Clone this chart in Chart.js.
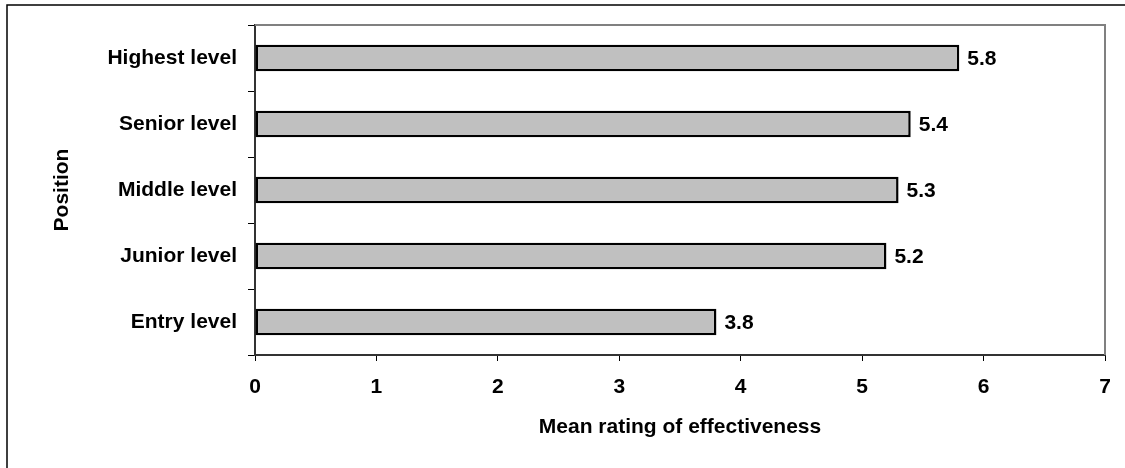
<!DOCTYPE html>
<html>
<head>
<meta charset="utf-8">
<script src="https://cdn.jsdelivr.net/npm/chart.js@4"></script>
<style>
  body { margin: 0; background: #fff; }
  canvas { display: block; }
</style>
</head>
<body>
<canvas id="chart" width="1125" height="468"></canvas>
<script>
let positions = ["Highest level", "Senior level", "Middle level", "Junior level", "Entry level"];
let ratings = [5.8, 5.4, 5.3, 5.2, 3.8];
let xMin = 0;
let xMax = 7;

const FONT = "'Liberation Sans', Arial, sans-serif";

// frame around the whole picture plus gray top/right edge of the plot
const frame = {
    id: "frame",
    afterDraw(chart) {
        const ctx = chart.ctx;
        const a = chart.chartArea;
        ctx.save();
        ctx.strokeStyle = "#000";
        ctx.lineWidth = 1.5;
        ctx.beginPath();
        ctx.moveTo(7, 468);
        ctx.lineTo(7, 5);
        ctx.lineTo(1125, 5);
        ctx.stroke();

        ctx.strokeStyle = "#808080";
        ctx.lineWidth = 2;
        ctx.beginPath();
        ctx.moveTo(a.left, a.top);
        ctx.lineTo(a.right, a.top);
        ctx.lineTo(a.right, a.bottom);
        ctx.stroke();
        ctx.restore();
    }
};

// value labels to the right of the bars
const valueLabels = {
    id: "valueLabels",
    afterDatasetsDraw(chart) {
        const ctx = chart.ctx;
        const meta = chart.getDatasetMeta(0);
        ctx.save();
        ctx.font = "bold 21px " + FONT;
        ctx.fillStyle = "#000";
        ctx.textAlign = "left";
        ctx.textBaseline = "middle";
        meta.data.forEach((bar, i) => {
            ctx.fillText(ratings[i].toFixed(1), bar.x + 8, bar.y + 1);
        });
        ctx.restore();
    }
};

new Chart(document.getElementById("chart"), {
    type: "bar",
    data: {
        labels: positions,
        datasets: [{
            data: ratings,
            backgroundColor: "#c0c0c0",
            borderColor: "#000",
            borderWidth: 2.5,
            borderSkipped: false,
            barPercentage: 0.4,
            categoryPercentage: 1
        }]
    },
    options: {
        indexAxis: "y",
        responsive: false,
        animation: false,
        layout: { padding: { top: 25, right: 20, left: 0, bottom: 0 } },
        plugins: {
            legend: { display: false },
            tooltip: { enabled: false }
        },
        scales: {
            x: {
                min: xMin,
                max: xMax,
                ticks: {
                    stepSize: 1,
                    color: "#000",
                    padding: 14,
                    font: { family: FONT, size: 21, weight: "bold" }
                },
                grid: {
                    drawOnChartArea: false,
                    tickLength: 6,
                    color: "#000",
                    lineWidth: 1
                },
                border: { color: "#333", width: 2 },
                title: {
                    display: true,
                    text: "Mean rating of effectiveness",
                    color: "#000",
                    padding: { top: 0, bottom: 28 },
                    font: { family: FONT, size: 21, weight: "bold" }
                },
                afterFit(scale) { scale.height = 113; }
            },
            y: {
                ticks: {
                    color: "#000",
                    padding: 11,
                    font: { family: FONT, size: 21, weight: "bold" }
                },
                grid: {
                    offset: true,
                    drawOnChartArea: false,
                    tickLength: 7,
                    color: "#000",
                    lineWidth: 1
                },
                border: { color: "#333", width: 2 },
                title: {
                    display: true,
                    text: "Position",
                    color: "#000",
                    padding: { top: 50, bottom: 0 },
                    font: { family: FONT, size: 21, weight: "bold" }
                },
                afterFit(scale) { scale.width = 255; }
            }
        }
    },
    plugins: [frame, valueLabels]
});
</script>
</body>
</html>
